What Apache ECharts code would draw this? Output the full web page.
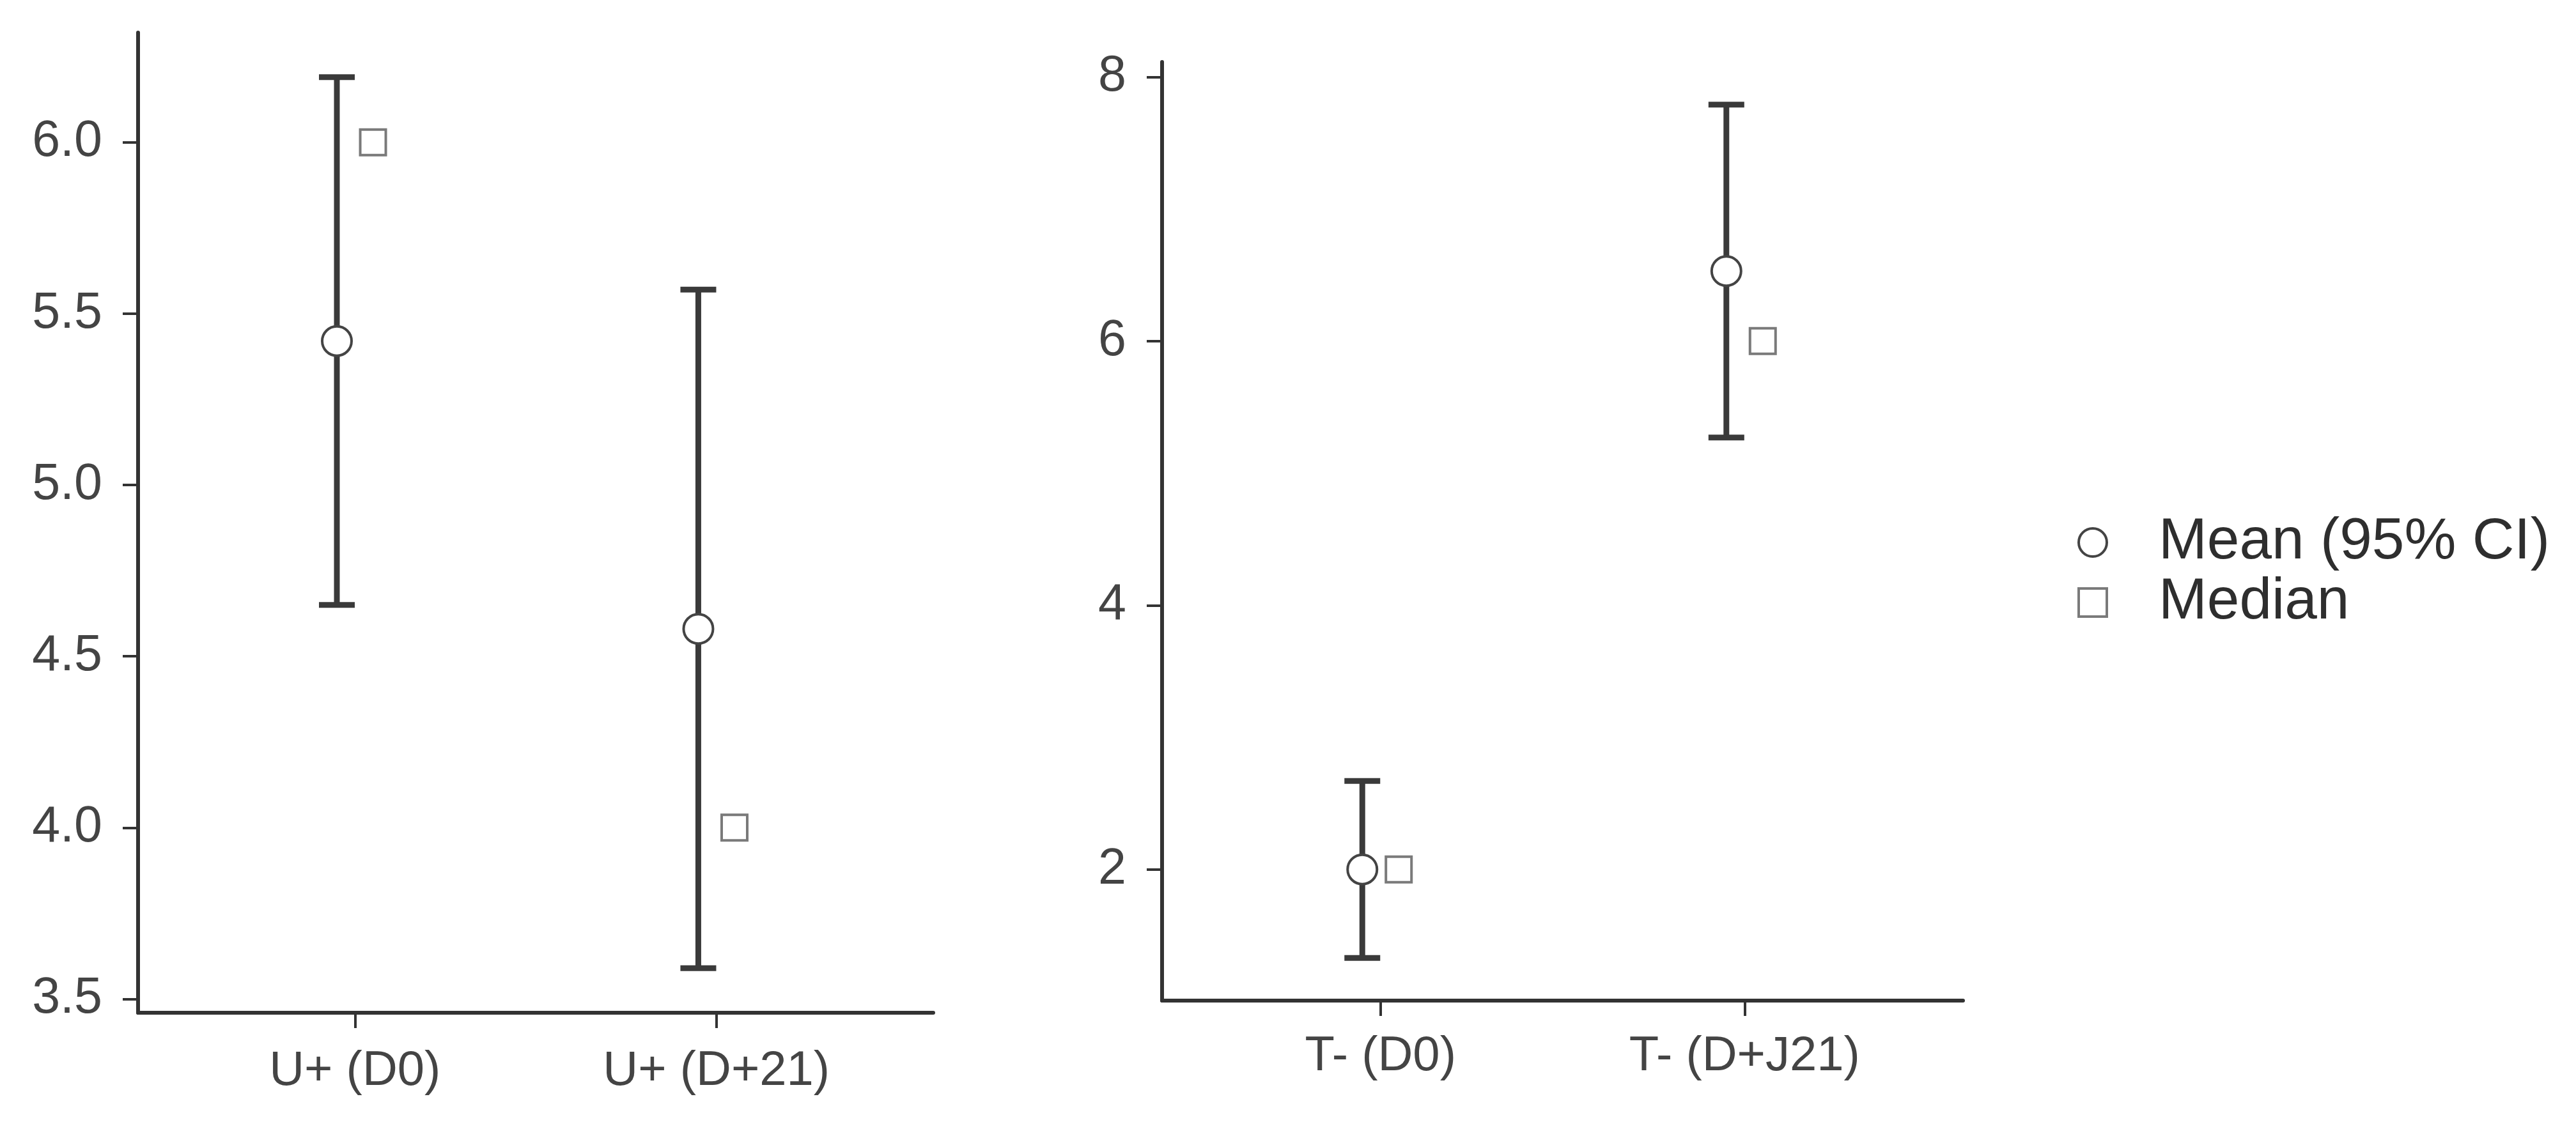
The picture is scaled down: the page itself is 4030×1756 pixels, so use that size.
<!DOCTYPE html>
<html>
<head>
<meta charset="utf-8">
<script src="https://cdn.jsdelivr.net/npm/echarts@6/dist/echarts.min.js"></script>
<style>
html,body{margin:0;padding:0;background:#fff;}
#chart{width:4030px;height:1756px;}
</style>
</head>
<body>
<div id="chart"></div>
<script>
// ---- data ----
const leftCategories = ['U+ (D0)', 'U+ (D+21)'];
const leftMean = [5.42, 4.58];
const leftLower = [4.65, 3.59];
const leftUpper = [6.19, 5.57];
const leftMedian = [6.0, 4.0];
const leftTicks = [3.5, 4.0, 4.5, 5.0, 5.5, 6.0];

const rightCategories = ['T- (D0)', 'T- (D+J21)'];
const rightMean = [2.0, 6.53];
const rightLower = [1.33, 5.27];
const rightUpper = [2.67, 7.79];
const rightMedian = [2.0, 6.0];
const rightTicks = [2, 4, 6, 8];

const legendNames = ['Mean (95% CI)', 'Median'];

// ---- helpers ----
const DODGE = 0.05;
function expandRange(lo, hi) {
  const all = lo.concat(hi);
  const mn = Math.min(...all), mx = Math.max(...all);
  const pad = (mx - mn) * 0.05;
  return [mn - pad, mx + pad];
}
const leftRange = expandRange(leftLower, leftUpper);
const rightRange = expandRange(rightLower, rightUpper);

const axisColor = '#333333';
const labelColor = '#444444';
const FONT = '"Liberation Sans", Arial, Helvetica, sans-serif';

function xAxisFor(gridIndex, cats, margin) {
  return {
    type: 'value', gridIndex, min: 0.4, max: 2.6,
    splitLine: {show: false},
    axisLine: {show: true, onZero: false, lineStyle: {color: axisColor, width: 6}},
    axisTick: {show: true, length: 24, lineStyle: {color: axisColor, width: 4}, customValues: [1, 2]},
    axisLabel: {
      show: true, customValues: [1, 2], margin: margin,
      fontSize: 76, fontFamily: FONT, color: labelColor,
      formatter: v => cats[Math.round(v) - 1]
    }
  };
}
function yAxisFor(gridIndex, range, ticks, dec) {
  return {
    type: 'value', gridIndex, min: range[0], max: range[1],
    splitLine: {show: false},
    axisLine: {show: true, onZero: false, lineStyle: {color: axisColor, width: 6}},
    axisTick: {show: true, length: 24, lineStyle: {color: axisColor, width: 4}, customValues: ticks},
    axisLabel: {
      show: true, customValues: ticks, margin: 56,
      fontSize: 79, fontFamily: FONT, color: labelColor,
      formatter: v => Number(v).toFixed(dec)
    }
  };
}

function errorSeries(idx, lower, upper) {
  return {
    type: 'custom', xAxisIndex: idx, yAxisIndex: idx, z: 2,
    silent: true,
    data: lower.map((l, i) => [i + 1 - DODGE, l, upper[i]]),
    renderItem: function (params, api) {
      const x = api.value(0);
      const pLo = api.coord([x, api.value(1)]);
      const pHi = api.coord([x, api.value(2)]);
      const hw = 28;
      const style = {stroke: '#3a3a3a', lineWidth: 9, fill: null};
      return {
        type: 'group',
        children: [
          {type: 'line', shape: {x1: pLo[0], y1: pLo[1], x2: pHi[0], y2: pHi[1]}, style},
          {type: 'line', shape: {x1: pHi[0] - hw, y1: pHi[1], x2: pHi[0] + hw, y2: pHi[1]}, style},
          {type: 'line', shape: {x1: pLo[0] - hw, y1: pLo[1], x2: pLo[0] + hw, y2: pLo[1]}, style}
        ]
      };
    }
  };
}
const meanStyle = {color: '#ffffff', borderColor: '#444444', borderWidth: 4, opacity: 1};
const medStyle = {color: '#ffffff', borderColor: '#7a7a7a', borderWidth: 4, opacity: 1};
function meanSeries(idx, mean) {
  return {
    name: legendNames[0], type: 'scatter', xAxisIndex: idx, yAxisIndex: idx, z: 5,
    symbol: 'circle', symbolSize: 46, itemStyle: meanStyle,
    data: mean.map((m, i) => [i + 1 - DODGE, m])
  };
}
function medianSeries(idx, med) {
  return {
    name: legendNames[1], type: 'scatter', xAxisIndex: idx, yAxisIndex: idx, z: 5,
    symbol: 'rect', symbolSize: 40, itemStyle: medStyle,
    data: med.map((m, i) => [i + 1 + DODGE, m])
  };
}

const chart = echarts.init(document.getElementById('chart'), null, {renderer: 'canvas'});
chart.setOption({
  backgroundColor: '#ffffff',
  animation: false,
  grid: [
    {left: 216, top: 51, width: 1244, height: 1534, containLabel: false, outerBoundsMode: 'none'},
    {left: 1818, top: 97, width: 1253, height: 1469, containLabel: false, outerBoundsMode: 'none'}
  ],
  xAxis: [xAxisFor(0, leftCategories, 54), xAxisFor(1, rightCategories, 50)],
  yAxis: [yAxisFor(0, leftRange, leftTicks, 1), yAxisFor(1, rightRange, rightTicks, 0)],
  legend: {
    orient: 'vertical', left: 3245, top: 797,
    itemWidth: 44, itemHeight: 44, itemGap: 0,
    selectedMode: false,
    textStyle: {fontSize: 91, fontFamily: FONT, color: '#2e2e2e', lineHeight: 94, padding: [0, 0, 0, 76]},
    data: [
      {name: legendNames[0], icon: 'circle', itemStyle: meanStyle},
      {name: legendNames[1], icon: 'rect', itemStyle: medStyle}
    ]
  },
  series: [
    errorSeries(0, leftLower, leftUpper),
    meanSeries(0, leftMean),
    medianSeries(0, leftMedian),
    errorSeries(1, rightLower, rightUpper),
    meanSeries(1, rightMean),
    medianSeries(1, rightMedian)
  ]
});
</script>
</body>
</html>
